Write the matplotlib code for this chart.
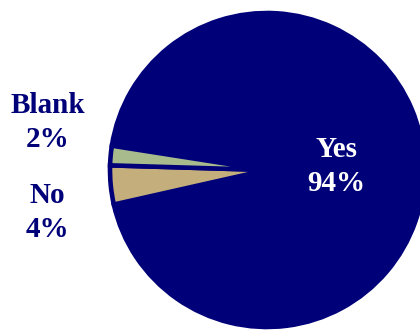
import matplotlib
matplotlib.use("Agg")
import matplotlib.pyplot as plt

categories = ["Yes", "No", "Blank"]
values = [94, 4, 2]
colors = ["#000078", "#C4AE7C", "#A8BB8C"]

NAVY = "#000078"

fig = plt.figure(figsize=(4.2, 3.3), dpi=100)
ax = fig.add_axes([0, 0, 1, 1])

W, H = 420, 330
cx, cy, r = 267, H - 170, 157
ax.pie(values, colors=colors, startangle=171.1, counterclock=False,
       center=(cx, cy), radius=r,
       wedgeprops=dict(edgecolor=NAVY, linewidth=3.3, joinstyle="miter"))
ax.set_xlim(0, W)
ax.set_ylim(0, H)
ax.set_aspect("equal")
ax.axis("off")

font = dict(family="Liberation Serif", fontweight="bold", fontsize=21,
            ha="center", va="baseline")

def label(x, y1, y2, name, pct, color):
    ax.text(x, H - y1, name, color=color, **font)
    ax.text(x, H - y2, f"{pct}%", color=color, **font)

label(336, 157, 191, categories[0], values[0], "white")
label(48, 113, 147, categories[2], values[2], NAVY)
label(47, 203, 237, categories[1], values[1], NAVY)

fig.savefig("out.png", dpi=100)
